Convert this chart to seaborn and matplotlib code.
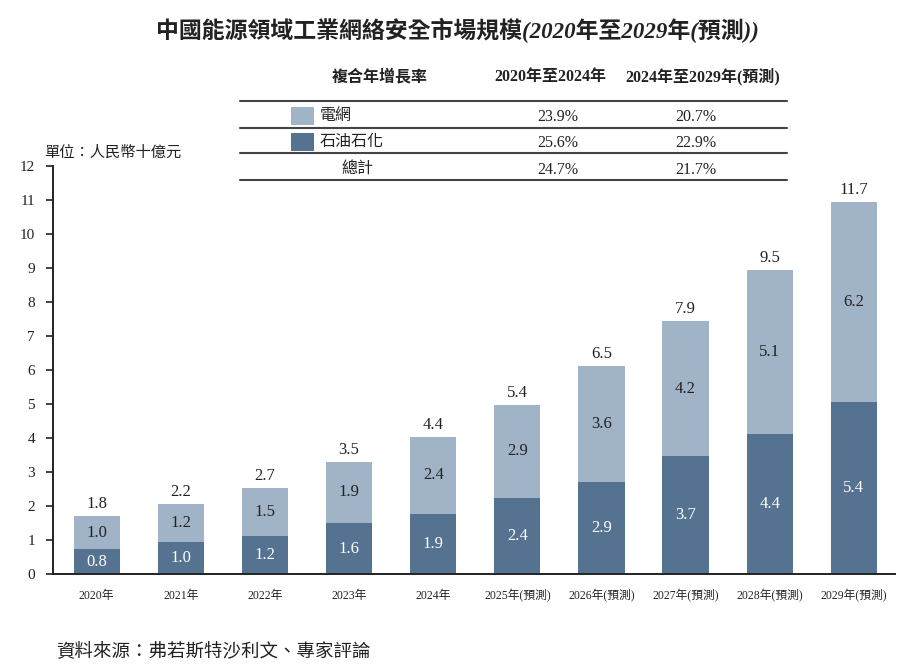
import matplotlib
matplotlib.use("Agg")
import matplotlib.pyplot as plt
import matplotlib.patches as mpatches
from matplotlib.lines import Line2D
import seaborn as sns
import pandas as pd
import numpy as np

sns.set_theme(style="white")
plt.rcParams['font.family'] = ['Liberation Serif', 'Noto Sans CJK TC', 'DejaVu Sans']

# ---------------- data ----------------
years = ["2020年", "2021年", "2022年", "2023年", "2024年",
         "2025年(預測)", "2026年(預測)", "2027年(預測)", "2028年(預測)", "2029年(預測)"]
# bar heights as drawn in the picture (RMB billion)
petro_height = [0.74, 0.95, 1.13, 1.51, 1.77, 2.24, 2.71, 3.48, 4.12, 5.06]
grid_height = [0.97, 1.12, 1.41, 1.79, 2.27, 2.74, 3.41, 3.96, 4.82, 5.88]
# value labels printed on the bars
petro_label = ["0.8", "1.0", "1.2", "1.6", "1.9", "2.4", "2.9", "3.7", "4.4", "5.4"]
grid_label = ["1.0", "1.2", "1.5", "1.9", "2.4", "2.9", "3.6", "4.2", "5.1", "6.2"]
total_label = ["1.8", "2.2", "2.7", "3.5", "4.4", "5.4", "6.5", "7.9", "9.5", "11.7"]

series_names = ["電網", "石油石化", "總計"]
cagr_header = ["複合年增長率", "2020年至2024年", "2024年至2029年(預測)"]
cagr_2020_2024 = ["23.9%", "25.6%", "24.7%"]
cagr_2024_2029 = ["20.7%", "22.9%", "21.7%"]

title = "中國能源領域工業網絡安全市場規模(2020年至2029年(預測))"
unit_text = "單位：人民幣十億元"
source_text = "資料來源：弗若斯特沙利文、專家評論"

light = "#a1b3c6"
dark = "#557290"
text_c = "#222222"
line_c = "#444444"

# ---------------- figure ----------------
W, H = 912, 666
fig = plt.figure(figsize=(W / 100, H / 100), dpi=100)

def fx(x):
    return x / W

def fy(y):
    return 1 - y / H

ax = fig.add_axes([fx(53), fy(574.3), fx(895) - fx(53), fy(166) - fy(574.3)])

df = pd.DataFrame({"year": years, "petro": petro_height, "grid": grid_height})
df["total"] = df["petro"] + df["grid"]

sns.barplot(data=df, x="year", y="total", color=light, width=0.55,
            saturation=1, ax=ax, linewidth=0)
sns.barplot(data=df, x="year", y="petro", color=dark, width=0.55,
            saturation=1, ax=ax, linewidth=0)

for i in range(len(years)):
    p = df["petro"][i]
    g = df["grid"][i]
    ax.text(i, p / 2, petro_label[i], ha="center", va="center",
            color="white", fontsize=12)
    ax.text(i, p + g / 2, grid_label[i], ha="center", va="center",
            color=text_c, fontsize=12)
    ax.annotate(total_label[i], (i, p + g), xytext=(0, 3),
                textcoords="offset points", ha="center", va="bottom",
                color=text_c, fontsize=12)

ax.set_xlim(-0.52, 9.49)
ax.set_ylim(0, 12)
ax.set_yticks(range(0, 13))
ax.set_xlabel("")
ax.set_ylabel("")
for s in ["top", "right"]:
    ax.spines[s].set_visible(False)
for s in ["left", "bottom"]:
    ax.spines[s].set_color("#222222")
    ax.spines[s].set_linewidth(1.4)
ax.tick_params(axis="y", which="both", left=True, length=5, width=1.2,
               color="#222222", labelsize=11, labelcolor=text_c, pad=8)
ax.tick_params(axis="x", bottom=False, labelsize=8.5, labelcolor=text_c, pad=5)

# ---------------- texts ----------------
fig.text(fx(457), fy(30), title, ha="center", va="center", fontsize=16.5,
         fontweight="bold", style="italic", color=text_c)
fig.text(fx(44), fy(153), unit_text, ha="left", va="center", fontsize=11,
         style="italic", color=text_c)
fig.text(fx(56), fy(651), source_text, ha="left", va="center", fontsize=13.3,
         style="italic", color=text_c)

# ---------------- CAGR table ----------------
hx = [380, 550, 703]
for x, t in zip(hx, cagr_header):
    fig.text(fx(x), fy(77), t, ha="center", va="center", fontsize=11.5,
             fontweight="bold", color=text_c)

for y in [100.7, 127.5, 153, 180]:
    fig.add_artist(Line2D([fx(240), fx(787)], [fy(y), fy(y)],
                          color=line_c, linewidth=1.5))

row_y = [116, 142, 169]
swatch_colors = [light, dark]
for k in range(2):
    fig.add_artist(mpatches.Rectangle((fx(291), fy(row_y[k] + 9)),
                                      fx(23), 18 / H, facecolor=swatch_colors[k],
                                      edgecolor="none"))
    fig.text(fx(320), fy(row_y[k]), series_names[k], ha="left", va="center",
             fontsize=11.5, color=text_c)
fig.text(fx(357), fy(row_y[2]), series_names[2], ha="center", va="center",
         fontsize=11.5, color=text_c)
for k in range(3):
    fig.text(fx(558), fy(row_y[k] + 1), cagr_2020_2024[k], ha="center",
             va="center", fontsize=11.5, color=text_c)
    fig.text(fx(696), fy(row_y[k] + 1), cagr_2024_2029[k], ha="center",
             va="center", fontsize=11.5, color=text_c)

fig.savefig("out.png", dpi=100)
